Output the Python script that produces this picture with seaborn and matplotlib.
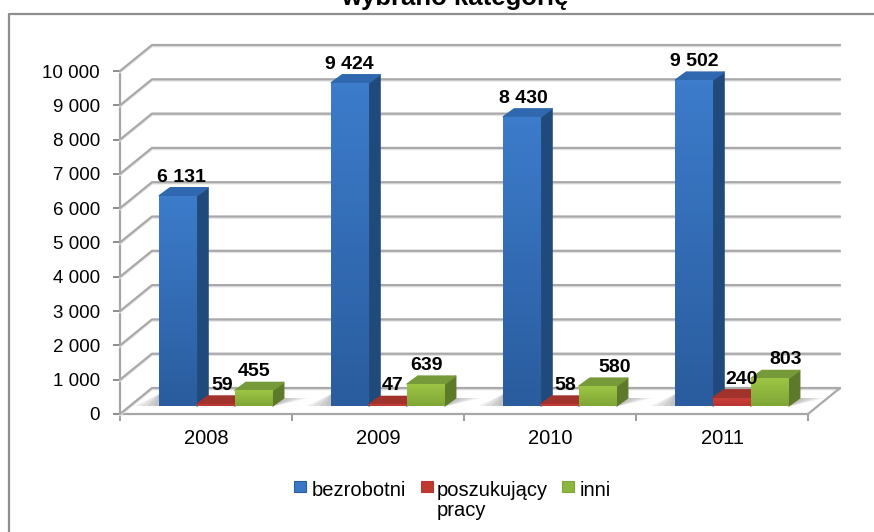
import numpy as np
import pandas as pd
import matplotlib
matplotlib.use("Agg")
import matplotlib.pyplot as plt
import seaborn as sns
from matplotlib.colors import LinearSegmentedColormap
from matplotlib.patches import Polygon, Rectangle

# values
years = ["2008", "2009", "2010", "2011"]
bezrobotni = [6131, 9424, 8430, 9502]
poszukujacy = [59, 47, 58, 240]
inni = [455, 639, 580, 803]
series_names = ["bezrobotni", "poszukujący\npracy", "inni"]
value_labels = ["6 131", "9 424", "8 430", "9 502", "59", "47", "58", "240", "455", "639", "580", "803"]
y_ticks = list(range(0, 11000, 1000))
y_tick_labels = ["0", "1 000", "2 000", "3 000", "4 000", "5 000", "6 000", "7 000", "8 000", "9 000", "10 000"]
title_text = "wybrano kategorię"

# colours
palette = ["#3a78c6", "#c0392f", "#8db63f"]
front_top = ["#3c7ccb", "#cc3f38", "#9dc544"]
front_bot = ["#2a5c9e", "#b83531", "#7fa636"]
top_col = ["#2f68ae", "#a2322c", "#76993a"]
side_col = ["#214a7c", "#7b2320", "#5d7a2a"]

# label nudges in pixels, from the bar centre
label_nudge = [3, -1, 1, 0, 6, 5, 5, 10, 0, 1, 17, 16]

W, H = 874, 532
sns.set_style("white", {"text.color": "black", "xtick.color": "black", "ytick.color": "black"})
plt.rcParams["font.family"] = ["Liberation Sans", "DejaVu Sans"]

fig = plt.figure(figsize=(W / 100, H / 100), dpi=100)

# pixel layout of the front plane of the plot
x0, x1 = 120, 808
y_base, y_top = 414, 71
ax = fig.add_axes([x0 / W, 1 - y_base / H, (x1 - x0) / W, (y_base - y_top) / H])

df = pd.DataFrame({
    "rok": years * 3,
    "seria": sum([[n] * 4 for n in series_names], []),
    "wartosc": bezrobotni + poszukujacy + inni,
})
sns.barplot(data=df, x="rok", y="wartosc", hue="seria", palette=palette,
            width=0.66, gap=0, saturation=1, legend=False, ax=ax, zorder=5)
ax.set_xlim(-0.5, 3.5)
ax.set_ylim(0, 10000)
ax.set_xlabel("")
ax.set_ylabel("")
ax.set_yticks(y_ticks, y_tick_labels)
ax.tick_params(axis="y", length=5, width=1.4, color="#8c8c8c", labelsize=13.5, pad=9.5, left=True)
ax.set_xticks([-0.5, 0.5, 1.5, 2.5, 3.5])
ax.set_xticklabels([])
ax.tick_params(axis="x", length=5, width=1.2, color="#8c8c8c", bottom=True)
for i, y in enumerate(years):
    ax.text(i, -24 / (y_base - y_top), y, transform=ax.get_xaxis_transform(), ha="center", va="center", fontsize=14.5)
for s in ["top", "right"]:
    ax.spines[s].set_visible(False)
for s in ["left", "bottom"]:
    ax.spines[s].set_color("#a6a6a6")
    ax.spines[s].set_linewidth(1.6)
ax.patch.set_alpha(0)

# depth of the 3D box in pixels
depth_x, depth_y = 32, 26


def px(points):
    return [(a / W, 1 - b / H) for a, b in points]


# gridlines run along the side wall and across the back wall
for t in y_ticks:
    yp = H - ax.transData.transform((0, t))[1]
    for off, col in [(1.2, "#e2e2e2"), (0, "#a9a9a9")]:
        fig.add_artist(plt.Line2D([x0 / W, (x0 + depth_x) / W, (x1 + depth_x) / W],
                                  [1 - (yp + off) / H, 1 - (yp - depth_y + off) / H, 1 - (yp - depth_y + off) / H],
                                  color=col, lw=1.6, zorder=0.5))
fig.add_artist(plt.Line2D([x1 / W, (x1 + depth_x) / W],
                          [1 - y_base / H, 1 - (y_base - depth_y) / H], color="#a9a9a9", lw=1.6, zorder=0.5))

# bars sit in the middle of the floor
shift_x, shift_y = 10, 8
bar_dx, bar_dy = 11, 8
gradient = np.linspace(0, 1, 64).reshape(-1, 1)
order = [p for p in ax.patches if p.get_height() > 0]
to_fig = fig.transFigure.inverted()

for j, p in enumerate(order):
    c = j // 4
    base = ax.transData.transform((p.get_x(), 0))
    tip = ax.transData.transform((p.get_x() + p.get_width(), p.get_height()))
    xa, ya = base[0] + shift_x, base[1] + shift_y
    xb, yb = tip[0] + shift_x, tip[1] + shift_y
    pts_top = [(xa, yb), (xb, yb), (xb + bar_dx, yb + bar_dy), (xa + bar_dx, yb + bar_dy)]
    pts_side = [(xb, ya), (xb + bar_dx, ya + bar_dy), (xb + bar_dx, yb + bar_dy), (xb, yb)]
    # soft wedge shadows on the floor, left of the blue and right of the green bars
    if c in (0, 2):
        for k in [6, 12, 18, 24]:
            if c == 0:
                wedge = [(xa, ya), (xa - k, ya), (xa, ya + bar_dy + 4)]
            else:
                wedge = [(xb + bar_dx, ya + bar_dy), (xb + bar_dx + k, ya + bar_dy), (xb + 2, ya)]
            fig.add_artist(Polygon(to_fig.transform(wedge), closed=True, fc="#8a8a8a",
                                   ec="none", alpha=0.16, zorder=0.6))
    z = 2 + c * 0.1
    fig.add_artist(Polygon(to_fig.transform(pts_side), closed=True, fc=side_col[c], ec=side_col[c],
                           lw=1, joinstyle="round", zorder=z))
    fig.add_artist(Polygon(to_fig.transform(pts_top), closed=True, fc=top_col[c], ec=top_col[c],
                           lw=1, joinstyle="round", zorder=z + 0.01))
    # front face as a vertical gradient
    cmap = LinearSegmentedColormap.from_list("g", [front_top[c], front_bot[c]])
    axf = fig.add_axes([xa / W, ya / H, (xb - xa) / W, (yb - ya) / H], zorder=z + 0.02)
    axf.imshow(gradient, aspect="auto", cmap=cmap)
    axf.axis("off")
    p.set_visible(False)

# value labels above bars
for j, p in enumerate(order):
    cx = p.get_x() + p.get_width() / 2
    xt, yt = ax.transData.transform((cx, p.get_height()))
    fig.text((xt + shift_x + label_nudge[j]) / W, (yt + shift_y + bar_dy + 2) / H, value_labels[j],
             ha="center", va="bottom", fontsize=14, fontweight="bold", zorder=10)

# chart frame: only left and top edge are visible
fig.add_artist(plt.Line2D([8.5 / W, 8.5 / W, 1], [0, 1 - 13.5 / H, 1 - 13.5 / H], color="#8e8e8e", lw=1.6))
fig.text(455 / W, 1 - 5 / H, title_text, ha="center", va="baseline", fontsize=18.5, fontweight="bold")

# legend drawn by hand to keep the wrapped middle entry
legend_items = [(294, series_names[0]), (421, series_names[1]), (562, series_names[2])]
legend_text_x = [312, 437, 580]
for c, (lx, name) in enumerate(legend_items):
    fig.add_artist(Rectangle((lx / W, 1 - 492 / H), 12 / W, 11 / H, fc=palette[c], ec=front_bot[c], lw=0.8))
    fig.text(legend_text_x[c] / W, 1 - 481 / H, name, ha="left", va="top", fontsize=14.5, linespacing=1.05)

fig.savefig("out.png", dpi=100)
